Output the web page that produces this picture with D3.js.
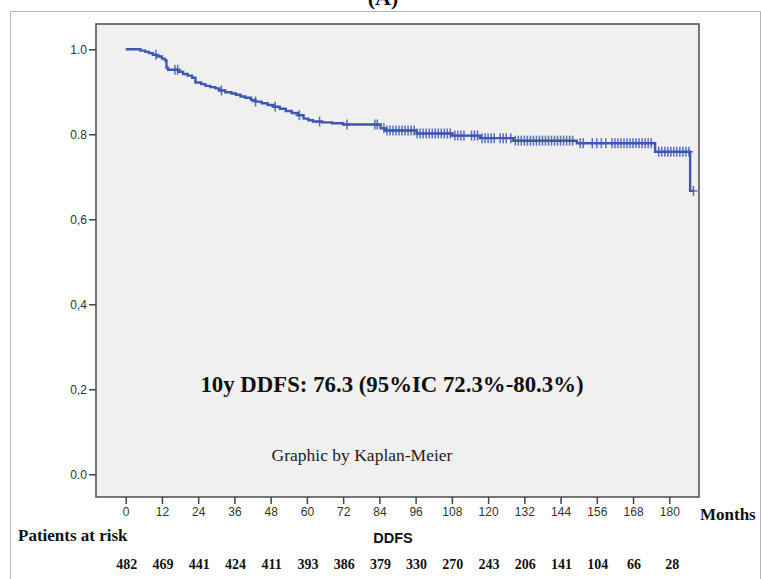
<!DOCTYPE html>
<html>
<head>
<meta charset="utf-8">
<script src="https://cdn.jsdelivr.net/npm/d3@7"></script>
<style>
  html, body { margin: 0; padding: 0; background: #fff; }
  svg { display: block; }
</style>
</head>
<body>
<svg id="chart" width="761" height="579"></svg>
<script>
// ---- Data ----
const eventTimes = [0, 4.9, 6.5, 7.7, 9, 10.5, 12, 13, 13.5, 14, 17.5, 19, 20.5, 22, 23.1, 25, 26.4, 28, 29.7, 31, 33, 35, 36.5, 38, 39.6, 41.5, 43, 45, 47, 49, 51, 53, 55, 57, 58.9, 60.5, 62, 65, 68.3, 72, 84.4, 86, 96.4, 108, 117.4, 128.4, 149.4, 175.3, 186.9];
const survival   = [1.0, 0.997, 0.994, 0.991, 0.987, 0.983, 0.978, 0.974, 0.957, 0.952, 0.947, 0.942, 0.938, 0.933, 0.922, 0.918, 0.914, 0.911, 0.908, 0.903, 0.899, 0.896, 0.893, 0.889, 0.886, 0.881, 0.877, 0.873, 0.869, 0.865, 0.860, 0.855, 0.850, 0.845, 0.837, 0.833, 0.830, 0.828, 0.826, 0.823, 0.814, 0.809, 0.802, 0.797, 0.791, 0.785, 0.779, 0.759, 0.667];
const lastTime = 188;
const censorTimes = [10, 16.3, 17.2, 31.7, 43, 49.5, 57.5, 64.2, 73.3, 82.5, 83.3,
  85.5, 86.5, 87.5, 88.5, 89.5, 90.5, 91.5, 92.5, 93.5, 94.5, 95.5, 96.5,
  97.5, 98.5, 99.5, 100.5, 101.5, 102.5, 103.5, 104.5, 105.5, 106.5, 107.5,
  109, 110, 111, 112,
  114.5, 115.5, 116.5, 118, 119, 120, 121, 122,
  124, 125, 126, 127.5,
  129, 130, 131, 132, 133, 134, 135, 136, 137, 138, 139, 140, 141, 142, 143, 144, 145, 146, 147, 148,
  150.5, 151.5,
  154.5, 156, 157.5, 159,
  161, 162, 163, 164, 165, 166, 167, 168, 169, 170, 171, 172, 173, 174,
  176.5, 177.5, 178.5, 179.5, 180.5, 181.5, 182.5, 183.5, 184.5, 185.5, 186.5,
  188];
const xTicks = [0, 12, 24, 36, 48, 60, 72, 84, 96, 108, 120, 132, 144, 156, 168, 180];
const yTicks = [0.0, 0.2, 0.4, 0.6, 0.8, 1.0];
const yTickLabels = ["0.0", "0,2", "0,4", "0,6", "0.8", "1.0"];
const atRiskTimes = [0, 12, 24, 36, 48, 60, 72, 84, 96, 108, 120, 132, 144, 156, 168, 180];
const atRisk = [482, 469, 441, 424, 411, 393, 386, 379, 330, 270, 243, 206, 141, 104, 66, 28];

// ---- Layout ----
const svg = d3.select("#chart");
const panel = { left: 96, top: 24, right: 699, bottom: 497 };
const x = d3.scaleLinear().domain([0, 180]).range([125.7, 669.3]);
const y = d3.scaleLinear().domain([0, 1]).range([474.3, 49.3]);
const blue = "#3d57b3";
const serif = "'Liberation Serif', 'Times New Roman', serif";
const sans = "'Liberation Sans', Arial, sans-serif";

// title (cut off at top, as in the reference)
svg.append("text").attr("x", 383).attr("y", 5).attr("text-anchor", "middle")
  .attr("font-family", serif).attr("font-weight", "bold").attr("font-size", 22)
  .attr("fill", "#111").text("(A)");

// outer frame
svg.append("path").attr("d", "M10.5,580 V11.5 H760.5 V580")
  .attr("fill", "none").attr("stroke", "#b5b5b5").attr("stroke-width", 1);

// plot panel
svg.append("rect").attr("x", panel.left).attr("y", panel.top)
  .attr("width", panel.right - panel.left).attr("height", panel.bottom - panel.top)
  .attr("fill", "#f0f0f0").attr("stroke", "#555").attr("stroke-width", 1.6);

// axes
const yAxis = d3.axisLeft(y).tickValues(yTicks).tickSize(7).tickPadding(2)
  .tickFormat((d, i) => yTickLabels[i]);
const gy = svg.append("g").attr("transform", `translate(${panel.left},0)`).call(yAxis);
gy.select(".domain").remove();
gy.selectAll(".tick line").attr("stroke", "#444").attr("stroke-width", 1.5);
gy.selectAll(".tick text").attr("font-family", sans).attr("font-size", 12).attr("fill", "#333");

const xAxis = d3.axisBottom(x).tickValues(xTicks).tickSize(7).tickPadding(3);
const gx = svg.append("g").attr("transform", `translate(0,${panel.bottom})`).call(xAxis);
gx.select(".domain").remove();
gx.selectAll(".tick line").attr("stroke", "#444").attr("stroke-width", 1.5);
gx.selectAll(".tick text").attr("font-family", sans).attr("font-size", 12).attr("fill", "#333");

// KM step curve
const pts = eventTimes.map((t, i) => [t, survival[i]]);
pts.push([lastTime, survival[survival.length - 1]]);
const line = d3.line().x(d => x(d[0])).y(d => y(d[1])).curve(d3.curveStepAfter);
svg.append("path").datum(pts).attr("d", line)
  .attr("fill", "none").attr("stroke", blue).attr("stroke-width", 2.4);

// censor marks
function survAt(t) {
  let s = survival[0];
  for (let i = 0; i < eventTimes.length; i++) if (eventTimes[i] <= t) s = survival[i];
  return s;
}
const cg = svg.append("g").attr("stroke", blue).attr("stroke-width", 1.5).attr("opacity", 0.85);
censorTimes.forEach(t => {
  const cx = x(t), cy = y(survAt(t));
  cg.append("line").attr("x1", cx).attr("x2", cx).attr("y1", cy - 5).attr("y2", cy + 5);
  cg.append("line").attr("x1", cx - 4).attr("x2", cx + 4).attr("y1", cy).attr("y2", cy);
});

// annotations
svg.append("text").attr("x", 392).attr("y", 392).attr("text-anchor", "middle")
  .attr("font-family", serif).attr("font-weight", "bold").attr("font-size", 22.8)
  .attr("fill", "#111").text("10y DDFS: 76.3 (95%IC 72.3%-80.3%)");
svg.append("text").attr("x", 362).attr("y", 461).attr("text-anchor", "middle")
  .attr("font-family", serif).attr("font-size", 17.5)
  .attr("fill", "#222").text("Graphic by Kaplan-Meier");

svg.append("text").attr("x", 700).attr("y", 520)
  .attr("font-family", serif).attr("font-weight", "bold").attr("font-size", 17)
  .attr("fill", "#111").text("Months");
svg.append("text").attr("x", 18).attr("y", 541)
  .attr("font-family", serif).attr("font-weight", "bold").attr("font-size", 17)
  .attr("fill", "#111").text("Patients at risk");
svg.append("text").attr("x", 393).attr("y", 543).attr("text-anchor", "middle")
  .attr("font-family", sans).attr("font-weight", "bold").attr("font-size", 14.5)
  .attr("fill", "#111").text("DDFS");

svg.append("g").selectAll("text").data(atRisk).join("text")
  .attr("x", (d, i) => x(atRiskTimes[i]) + (i === atRisk.length - 1 ? 3 : 1))
  .attr("y", 569).attr("text-anchor", "middle")
  .attr("font-family", serif).attr("font-weight", "bold").attr("font-size", 14)
  .attr("fill", "#111").text(d => d);
</script>
</body>
</html>
